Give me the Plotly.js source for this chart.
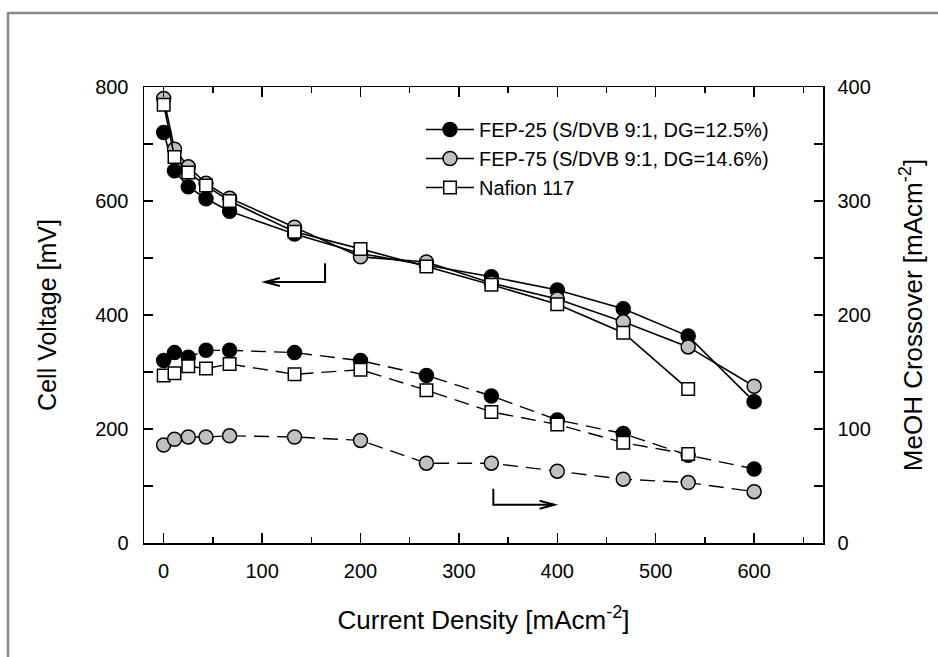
<!DOCTYPE html>
<html>
<head>
<meta charset="utf-8">
<script src="https://cdn.plot.ly/plotly-3.0.1.min.js"></script>
<style>
  html, body { margin: 0; padding: 0; background: #ffffff; }
  #chart { width: 938px; height: 657px; }
</style>
</head>
<body>
<div id="chart"></div>
<script>
// Current density [mA cm^-2]
const currentDensity = [0, 11, 25, 43, 67, 133, 200, 267, 333, 400, 467, 533, 600];
const currentDensityNafion = [0, 11, 25, 43, 67, 133, 200, 267, 333, 400, 467, 533];

// Cell voltage [mV] (left axis)
const voltageFEP25 = [720, 653, 625, 604, 582, 542, 508, 488, 467, 444, 411, 363, 248];
const voltageFEP75 = [780, 691, 660, 631, 605, 554, 502, 493, 456, 428, 388, 344, 275];
const voltageNafion = [769, 677, 650, 627, 600, 546, 516, 485, 453, 419, 369, 270];

// MeOH crossover [mA cm^-2] (right axis)
const crossFEP25 = [160, 167, 163, 169, 169, 167, 160, 147, 129, 108, 96, 77, 65];
const crossFEP75 = [86, 91, 93, 93, 94, 93, 90, 70, 70, 63, 56, 53, 45];
const crossNafion = [147, 149, 155, 153, 157, 148, 152, 134, 115, 104, 88, 78];

const seriesNames = ["FEP-25 (S/DVB 9:1, DG=12.5%)", "FEP-75 (S/DVB 9:1, DG=14.6%)", "Nafion 117"];

const black = "#000000";
const grey = "#c0c0c0";
const white = "#ffffff";

function circle(fill) {
  return { symbol: "circle", size: 14, color: fill, line: { color: black, width: 1.5 } };
}
function square() {
  return { symbol: "square", size: 12.5, color: white, line: { color: black, width: 1.5 } };
}
const solid = { color: black, width: 1.6 };
const dashed = { color: black, width: 1.4, dash: "15px,8px" };

const traces = [
  // crossover (dashed, right axis)
  { x: currentDensity, y: crossFEP25, yaxis: "y2", mode: "lines+markers", line: dashed, marker: circle(black), showlegend: false, legendgroup: "a" },
  { x: currentDensity, y: crossFEP75, yaxis: "y2", mode: "lines+markers", line: dashed, marker: circle(grey), showlegend: false, legendgroup: "b" },
  { x: currentDensityNafion, y: crossNafion, yaxis: "y2", mode: "lines+markers", line: dashed, marker: square(), showlegend: false, legendgroup: "c" },
  // cell voltage (solid, left axis)
  { x: currentDensity, y: voltageFEP25, name: seriesNames[0], mode: "lines+markers", line: solid, marker: circle(black), legendgroup: "a" },
  { x: currentDensity, y: voltageFEP75, name: seriesNames[1], mode: "lines+markers", line: solid, marker: circle(grey), legendgroup: "b" },
  { x: currentDensityNafion, y: voltageNafion, name: seriesNames[2], mode: "lines+markers", line: solid, marker: square(), legendgroup: "c" }
];

const W = 938, H = 657;
const M = { l: 144, r: 115, t: 87, b: 114 };
const pw = W - M.l - M.r, ph = H - M.t - M.b;
const px2paperX = px => (px - M.l) / pw;
const py2paperY = py => (H - M.b - py) / ph;

const FAMILY = "Liberation Sans, Arial, sans-serif";
const tickFont = { family: FAMILY, size: 20, color: black };
const titleFont = { family: FAMILY, size: 26, color: black };

const layout = {
  width: W, height: H,
  margin: M,
  paper_bgcolor: white, plot_bgcolor: white,
  font: { family: FAMILY, color: black },
  showlegend: true,
  legend: {
    x: px2paperX(421), y: py2paperY(110), xanchor: "left", yanchor: "top",
    bgcolor: "rgba(0,0,0,0)", borderwidth: 0,
    font: { family: FAMILY, size: 20, color: black },
    itemwidth: 48, tracegroupgap: 0
  },
  xaxis: {
    range: [-20, 670], tick0: 0, dtick: 100,
    ticks: "inside", ticklen: 10, tickwidth: 1.5, tickcolor: black,
    minor: { tick0: 0, dtick: 50, ticks: "inside", ticklen: 6, tickwidth: 1.5, tickcolor: black },
    showline: true, linewidth: 1.5, linecolor: black, mirror: "ticks",
    showgrid: false, zeroline: false,
    tickfont: tickFont, ticklabelstandoff: 9,
    title: { text: "Current Density [mAcm<sup>-2</sup>]", font: titleFont, standoff: 30 }
  },
  yaxis: {
    range: [0, 800], tick0: 0, dtick: 200,
    ticks: "inside", ticklen: 9, tickwidth: 1.5, tickcolor: black,
    minor: { tick0: 0, dtick: 100, ticks: "inside", ticklen: 9, tickwidth: 1.5, tickcolor: black },
    showline: true, linewidth: 1.5, linecolor: black, mirror: false,
    showgrid: false, zeroline: false,
    tickfont: tickFont, ticklabelstandoff: 10,
    title: { text: "Cell Voltage [mV]", font: { family: FAMILY, size: 25, color: black }, standoff: 31 }
  },
  yaxis2: {
    overlaying: "y", side: "right",
    range: [0, 400], tick0: 0, dtick: 100,
    ticks: "inside", ticklen: 9, tickwidth: 1.5, tickcolor: black,
    minor: { tick0: 0, dtick: 50, ticks: "inside", ticklen: 9, tickwidth: 1.5, tickcolor: black },
    showline: true, linewidth: 1.5, linecolor: black,
    showgrid: false, zeroline: false,
    tickfont: tickFont, ticklabelstandoff: 9,
    title: { text: "MeOH Crossover [mAcm<sup>-2</sup>]", font: titleFont, standoff: 34 }
  },
  shapes: [
    // outer grey frame (top and left edges)
    { type: "line", xref: "paper", yref: "paper", x0: px2paperX(8), x1: px2paperX(945), y0: py2paperY(13), y1: py2paperY(13), line: { color: "#888888", width: 2.5 } },
    { type: "line", xref: "paper", yref: "paper", x0: px2paperX(8), x1: px2paperX(8), y0: py2paperY(12), y1: py2paperY(665), line: { color: "#888888", width: 2.5 } },
    // arrow pointing left (to cell voltage axis)
    { type: "path", xref: "x", yref: "y", path: "M 164 491 L 164 458 L 103 458", line: { color: black, width: 2 } },
    { type: "path", xref: "x", yref: "y", path: "M 118 465 L 103 458 L 118 451", line: { color: black, width: 2 } },
    // arrow pointing right (to crossover axis)
    { type: "path", xref: "x", yref: "y", path: "M 335 95 L 335 67 L 397 67", line: { color: black, width: 2 } },
    { type: "path", xref: "x", yref: "y", path: "M 382 74 L 397 67 L 382 60", line: { color: black, width: 2 } }
  ]
};

Plotly.newPlot("chart", traces, layout, { displayModeBar: false, staticPlot: true });
</script>
</body>
</html>
